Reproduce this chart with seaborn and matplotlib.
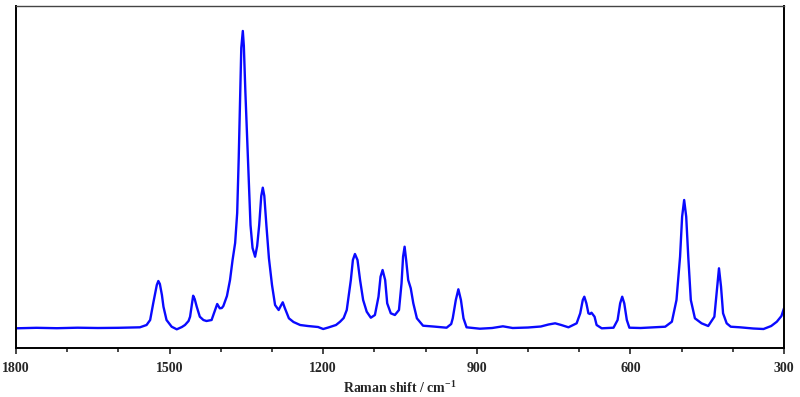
import numpy as np
import pandas as pd
import seaborn as sns
import matplotlib.pyplot as plt

# spectrum (wavenumber in cm-1, intensity in a.u.)
raman_shift = [1800, 1760, 1720, 1680, 1640, 1600, 1570, 1558, 1545, 1538,
               1532, 1525, 1522, 1519, 1515, 1512, 1506, 1496, 1486, 1476,
               1470, 1463, 1460, 1457, 1454, 1451, 1447, 1441, 1434, 1428,
               1418, 1411, 1407, 1402, 1398, 1395, 1388, 1382, 1377, 1372,
               1368, 1365, 1362, 1360, 1357, 1355, 1352, 1347, 1342, 1338,
               1333, 1329, 1325, 1321, 1318, 1315, 1311, 1306, 1300, 1294,
               1287, 1283, 1279, 1275, 1267, 1258, 1245, 1230, 1210, 1200,
               1190, 1175, 1167, 1160, 1154, 1146, 1142, 1138, 1133, 1128,
               1122, 1115, 1107, 1099, 1092, 1088, 1084, 1079, 1075, 1068,
               1060, 1052, 1047, 1044, 1041, 1038, 1034, 1029, 1024, 1017,
               1005, 985, 959, 950, 947, 941, 936, 931, 926, 920,
               894, 870, 849, 830, 800, 775, 760, 747, 735, 721,
               705, 698, 693, 690, 686, 682, 679, 676, 670, 666,
               656, 633, 625, 620, 616, 612, 607, 602, 580, 560,
               540, 532, 519, 510, 503, 499, 495, 491, 487, 482,
               474, 461, 448, 436, 431, 427, 423, 419, 412, 404,
               386, 360, 340, 325, 314, 305, 300]
intensity = [-0.3, 0.2, -0.2, 0.3, 0, 0.2, 0.5, 0.7, 3, 8,
             24.7, 43, 47, 44, 33, 21.3, 8, 1.3, -1.3, 1,
             3, 7, 11.3, 22, 32.3, 29, 21.3, 11.3, 8, 7,
             8, 18, 24, 19.7, 20, 22, 32, 48, 68, 85,
             115, 170, 236, 280, 297, 282, 236, 170, 103, 80,
             71.3, 82, 103, 132, 140.3, 132, 103, 69.7, 43, 23,
             18, 22, 25.7, 20, 9.7, 6, 3, 2, 1, -1,
             0.5, 3, 6.3, 10, 18, 48, 68, 74, 68, 48,
             28, 16.3, 10.3, 13, 31.3, 51.3, 58, 48, 24.7, 14.7,
             13, 18, 44.7, 71.3, 81.3, 68, 48, 39.7, 24.7, 9.7,
             2.3, 1.5, 0.3, 4, 9.7, 28, 38.7, 28, 9.7, 0.7,
             -0.7, 0, 1.7, 0, 0.5, 1.5, 3.5, 4.7, 3, 0.7,
             4.7, 14.7, 28, 31.3, 24.7, 14.7, 14, 15.3, 11.3, 3,
             -0.3, 0.3, 8, 24.7, 31.3, 24.7, 8, 0.3, 0, 0.5,
             1, 1.3, 6.3, 28, 71.3, 111.3, 128, 111.3, 71.3, 28,
             9.7, 4.7, 2, 11.3, 38, 59.7, 41.3, 14.7, 4.7, 1.3,
             0.7, -0.5, -1, 2, 6.3, 12, 19.7]

major_ticks = [1800, 1500, 1200, 900, 600, 300]
minor_ticks = [1700, 1600, 1400, 1300, 1100, 1000, 800, 700, 500, 400]

df = pd.DataFrame({'shift': raman_shift, 'intensity': intensity})

sns.set_style('ticks')
plt.rcParams['font.family'] = ['Liberation Serif', 'DejaVu Serif']
plt.rcParams['mathtext.fontset'] = 'custom'
plt.rcParams['mathtext.rm'] = 'Liberation Serif:bold'
plt.rcParams['mathtext.default'] = 'rm'

fig = plt.figure(figsize=(8, 3.97), dpi=100)
ax = fig.add_axes([0.02, 0.1234, 0.96, 0.8616])

sns.lineplot(data=df, x='shift', y='intensity', color='#0a0aff',
             linewidth=1.7, sort=False, ax=ax)
for ln in ax.get_lines():
    ln.set_solid_joinstyle('round')
    ln.set_solid_capstyle('round')

ax.set_xlim(1800, 300)
ax.set_ylim(-20, 322)
ax.set_xticks(major_ticks)
ax.set_xticks(minor_ticks, minor=True)
ax.set_xticklabels([str(t) for t in major_ticks], fontsize=10, fontweight='bold')
ax.tick_params(axis='x', which='major', direction='out', length=4, width=1.2, pad=6)
ax.tick_params(axis='x', which='minor', direction='out', length=3, width=1.2)
ax.set_yticks([])
ax.set_ylabel('')
ax.set_xlabel(r'Raman shift / cm$^{-1}$', fontsize=10, fontweight='bold', labelpad=4)

for side in ['left', 'right', 'bottom']:
    ax.spines[side].set_color('black')
    ax.spines[side].set_linewidth(1.4)
ax.spines['top'].set_color('#444444')
ax.spines['top'].set_linewidth(1.0)

plt.savefig('out.png', dpi=100)
